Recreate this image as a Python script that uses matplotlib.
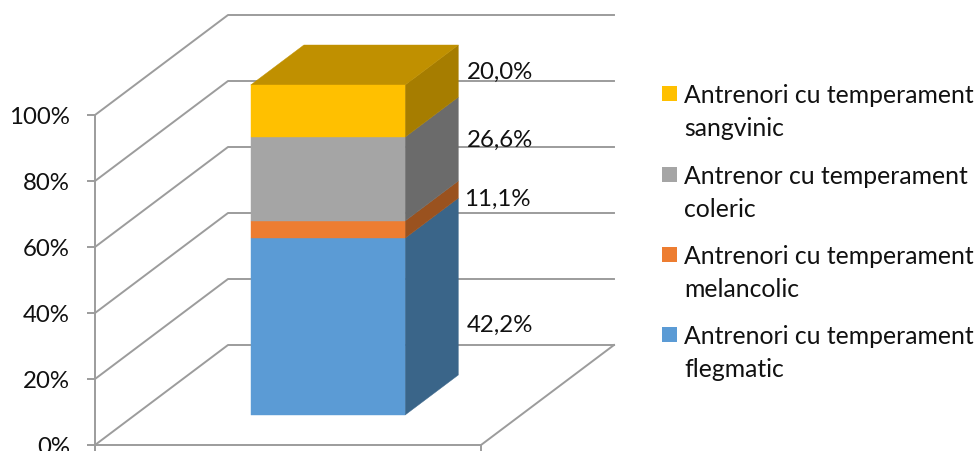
import matplotlib

matplotlib.use("Agg")

import matplotlib.pyplot as plt
import numpy as np
from matplotlib.patches import Polygon, Rectangle
from matplotlib.ticker import PercentFormatter

plt.rcParams["font.family"] = ["Lato", "DejaVu Sans"]

# bottom to top, heights as drawn in the picture (they differ from the printed labels)
series_names = [
    "Antrenori cu temperament\nflegmatic",
    "Antrenori cu temperament\nmelancolic",
    "Antrenor cu temperament\ncoleric",
    "Antrenori cu temperament\nsangvinic",
]
drawn_heights = [53.6, 5.2, 25.4, 15.8]
value_labels = ["42,2%", "11,1%", "26,6%", "20,0%"]
y_ticks = [0, 20, 40, 60, 80, 100]

front_colors = ["#5B9BD5", "#ED7D31", "#A5A5A5", "#FFC000"]
side_colors = ["#3A6589", "#9A521F", "#6B6B6B", "#A67D00"]
top_color = "#C09000"
line_color = "#9C9C9C"

W, H = 979, 452
PX_PER_PCT = 3.3

# oblique projection: one unit of depth moves a point right and up
DEPTH_X = 133 / 386
DEPTH_Y = 100 / PX_PER_PCT


def project(x, value, depth):
    return (x + DEPTH_X * depth, value + DEPTH_Y * depth)


figure = plt.figure(figsize=(W / 100, H / 100), dpi=100)
axis = figure.add_axes([0, 0, 1, 1])
axis.set_xlim(-95 / 386, (W - 95) / 386)
axis.set_ylim(-(H - 446) / PX_PER_PCT, 446 / PX_PER_PCT)
axis.patch.set_visible(False)

for name in ("top", "right"):
    axis.spines[name].set_visible(False)
for name in ("left", "bottom"):
    axis.spines[name].set_position(("data", 0))
    axis.spines[name].set_color(line_color)
    axis.spines[name].set_linewidth(1.4)
axis.spines["left"].set_bounds(-3, 100)
axis.spines["bottom"].set_bounds(0, 1)

axis.set_yticks(y_ticks)
axis.yaxis.set_major_formatter(PercentFormatter(decimals=0))
axis.tick_params(
    axis="y",
    length=6,
    width=1.4,
    color=line_color,
    labelsize=17.3,
    labelcolor="#111111",
    pad=12,
)
axis.set_xticks([0, 1])
axis.set_xticklabels(["", ""])
axis.tick_params(axis="x", length=6, width=1.4, color=line_color)

# wall gridlines: up the side wall, then along the back wall
for tick in y_ticks:
    points = [project(0, tick, 0), project(0, tick, 1), project(1, tick, 1)]
    axis.plot(*zip(*points), color=line_color, lw=1.4, zorder=1)
floor_edge = [project(1, 0, 1), project(1, 0, 0)]
axis.plot(*zip(*floor_edge), color=line_color, lw=1.4, zorder=1)

# the one stacked column, depth 0.3 to 0.7
bar_left, bar_right = 0.3, 0.7
depth_front, depth_back = 0.3, 0.7
bottoms = np.concatenate([[0], np.cumsum(drawn_heights)[:-1]])

for bottom, height, front, side in zip(bottoms, drawn_heights, front_colors, side_colors):
    top = bottom + height
    side_face = [
        project(bar_right, bottom, depth_front),
        project(bar_right, bottom, depth_back),
        project(bar_right, top, depth_back),
        project(bar_right, top, depth_front),
    ]
    front_face = [
        project(bar_left, bottom, depth_front),
        project(bar_right, bottom, depth_front),
        project(bar_right, top, depth_front),
        project(bar_left, top, depth_front),
    ]
    axis.add_patch(Polygon(side_face, facecolor=side, edgecolor=side, lw=0.3, zorder=3))
    axis.add_patch(Polygon(front_face, facecolor=front, edgecolor=front, lw=0.3, zorder=4))

stack_top = bottoms[-1] + drawn_heights[-1]
top_face = [
    project(bar_left, stack_top, depth_front),
    project(bar_right, stack_top, depth_front),
    project(bar_right, stack_top, depth_back),
    project(bar_left, stack_top, depth_back),
]
axis.add_patch(Polygon(top_face, facecolor=top_color, edgecolor=top_color, lw=0.3, zorder=3))

# data labels, placed by hand as in the source chart
label_positions = [(467, 325), (464, 199), (467, 140), (467, 72)]
for text, (x_px, y_px) in zip(value_labels, label_positions):
    figure.text(
        x_px / W,
        1 - y_px / H,
        text,
        fontsize=17.3,
        color="#111111",
        ha="left",
        va="center",
        zorder=6,
    )

# legend drawn by hand so the wrapped entries keep their spacing
legend_rows = [335.5, 255.5, 175.5, 94.5]
for name, color, y_px in zip(series_names, front_colors, legend_rows):
    figure.add_artist(
        Rectangle(
            (662 / W, 1 - (y_px + 7.5) / H),
            15 / W,
            15 / H,
            transform=figure.transFigure,
            facecolor=color,
            edgecolor="none",
        )
    )
    figure.text(
        684 / W,
        1 - (y_px + 17.5) / H,
        name,
        fontsize=17.8,
        color="#111111",
        ha="left",
        va="center",
        linespacing=1.5,
    )

figure.savefig("out.png", dpi=100)
plt.close(figure)
